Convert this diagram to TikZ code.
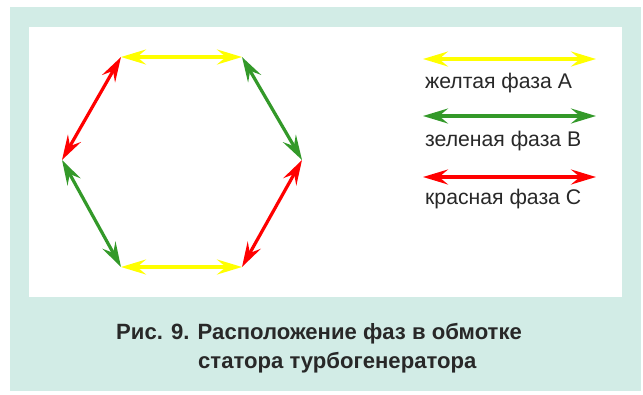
\documentclass[tikz,border=0pt]{standalone}
\usepackage{fontspec}
\setmainfont{Liberation Sans}
\usetikzlibrary{arrows.meta}
\definecolor{bgteal}{RGB}{210,236,230}
\definecolor{phyellow}{RGB}{255,255,0}
\definecolor{phgreen}{RGB}{51,153,41}
\definecolor{phred}{RGB}{255,0,0}
\definecolor{txtgray}{RGB}{40,40,40}
\tikzset{
  ph/.style={line width=3.2pt, {Stealth[length=25pt,width=15pt,inset=9pt]}-{Stealth[length=25pt,width=15pt,inset=9pt]}},
  legtext/.style={anchor=base west, inner sep=0pt, font=\fontsize{21.2}{24}\selectfont, text=txtgray},
  captext/.style={anchor=base west, inner sep=0pt, font=\fontsize{22.1}{25}\selectfont\bfseries, text=txtgray}
}
\begin{document}
\begin{tikzpicture}[x=1pt,y=-1pt]
\useasboundingbox (0,0) rectangle (643,394);
\fill[bgteal] (10,7) rectangle (641,391);
\fill[white] (29,27) rectangle (622,297);
% hexagon vertices
\coordinate (TL) at (121,57);
\coordinate (TR) at (242,57);
\coordinate (R) at (302,160);
\coordinate (BR) at (242,267);
\coordinate (BL) at (121,267);
\coordinate (L) at (62,160);
\draw[ph, phyellow] (TL) -- (TR);
\draw[ph, phgreen] (TR) -- (R);
\draw[ph, phred] (R) -- (BR);
\draw[ph, phyellow] (BR) -- (BL);
\draw[ph, phgreen] (BL) -- (L);
\draw[ph, phred] (L) -- (TL);
% legend
\coordinate (ya) at (423,59);
\coordinate (yb) at (596,59);
\coordinate (ga) at (423,116);
\coordinate (gb) at (596,116);
\coordinate (ra) at (423,177);
\coordinate (rb) at (596,177);
\draw[ph, phyellow] (ya) -- (yb);
\draw[ph, phgreen] (ga) -- (gb);
\draw[ph, phred] (ra) -- (rb);
\node[legtext] (ty) at (425,88) {желтая фаза А};
\node[legtext] (tg) at (425,146) {зеленая фаза В};
\node[legtext] (tr) at (425,204) {красная фаза С};
% caption
\node[captext] (c1) at (116,339) {Рис. 9. Расположение фаз в обмотке};
\node[captext] (c2) at (198,368) {статора турбогенератора};
\end{tikzpicture}
\end{document}
